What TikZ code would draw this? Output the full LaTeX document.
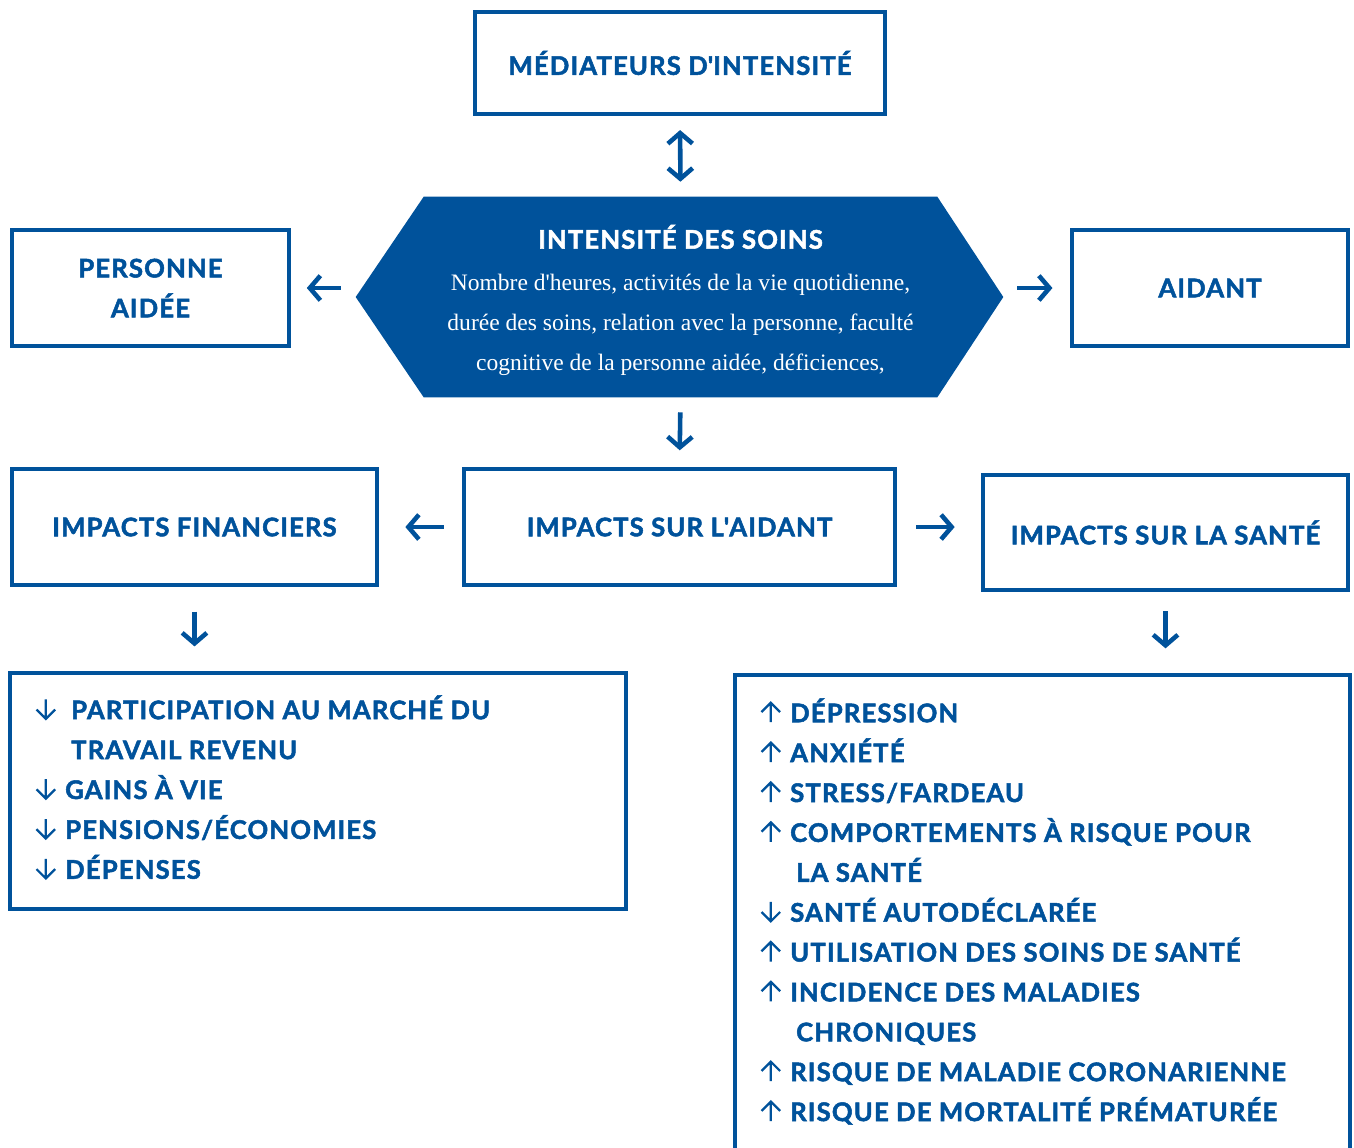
\documentclass[tikz,border=0pt]{standalone}
\usepackage{fontspec}
\setmainfont{Liberation Serif}
\newfontfamily\headfont{Lato}[LetterSpace=4.5,BoldFeatures={FakeBold=2}]
\usetikzlibrary{arrows.meta,positioning,calc,backgrounds}
\definecolor{cblue}{RGB}{0,82,155}

\newcommand\dnarrow{\makebox[17pt][l]{\tikz[baseline=0pt,x=1pt,y=1pt]
  \draw[cblue,line width=1.3pt,line join=miter] (6,11.3) -- (6,0.2) (0.7,5.5) -- (6,0.2) -- (11.3,5.5);}}
\newcommand\uparr{\makebox[17pt][l]{\tikz[baseline=0pt,x=1pt,y=1pt]
  \draw[cblue,line width=1.3pt,line join=miter] (6,0) -- (6,11.1) (0.7,5.8) -- (6,11.1) -- (11.3,5.8);}}
\newcommand\apos{\textquotesingle}

\begin{document}
\begin{tikzpicture}[x=0.02cm,y=-0.02cm,>={Straight Barb[length=6pt,width=14pt]},
                    box/.style={draw=cblue,line width=2.3pt,text=cblue,align=center,inner sep=0pt,
                      font=\headfont\bfseries\fontsize{14.6}{22.7}\selectfont},
                    flow/.style={draw=cblue,line width=2.6pt,->},
                    listtext/.style={text=cblue,align=left,inner sep=0pt,anchor=north west,
                      font=\headfont\bfseries\fontsize{14.6}{22.7}\selectfont}]

  \useasboundingbox (0,0) rectangle (1354,1147);
  \clip (0,0) rectangle (1354,1147);

  % top row
  \node[box,minimum width=8.2cm,minimum height=2.04cm]   (mediateurs) at (680,63)    {MÉDIATEURS D\apos INTENSITÉ};
  \node[text=white,align=center,inner sep=0pt,minimum width=10.26cm,minimum height=4cm,
        font=\fontsize{13.4}{22.7}\selectfont]            (intensite)  at (680.5,297) {};
  \node[text=white,align=center,inner sep=0pt,font=\fontsize{13.4}{22.7}\selectfont]
        (intensitetext) at (680.5,300)
        {{\headfont\bfseries\fontsize{14.6}{22.7}\selectfont INTENSITÉ DES SOINS}\\[1pt]
         Nombre d\apos heures, activités de la vie quotidienne,\\
         durée des soins, relation avec la personne, faculté\\
         cognitive de la personne aidée, déficiences,};
  \node[box,minimum width=5.54cm,minimum height=2.32cm]  (personne)   at (150.5,288)  {PERSONNE\\AIDÉE};
  \node[box,minimum width=5.52cm,minimum height=2.32cm]  (aidant)     at (1210,288)   {AIDANT};

  \coordinate (hexw) at ($(intensite.west)+(-68,0)$);
  \coordinate (hexe) at ($(intensite.east)+(66,0)$);
  \begin{scope}[on background layer]
    \fill[cblue] (intensite.north west) -- (intensite.north east) -- (hexe)
                 -- (intensite.south east) -- (intensite.south west) -- (hexw) -- cycle;
  \end{scope}

  % impacts
  \node[box,minimum width=8.62cm,minimum height=2.32cm]  (impaidant)  at (679.5,527)  {IMPACTS SUR L\apos AIDANT};
  \node[box,minimum width=7.3cm,minimum height=2.32cm]   (financiers) at (194.5,527)  {IMPACTS FINANCIERS};
  \node[box,minimum width=7.3cm,minimum height=2.3cm]    (sante)      at (1165.5,532.5) {IMPACTS SUR LA SANTÉ};

  % lists
  \node[box,minimum width=12.32cm,minimum height=4.72cm] (finlist)    at (318,791)    {};
  \node[minimum width=12.3cm,minimum height=9.8cm,inner sep=0pt] (santelist) at (1042.5,920) {};
  \draw[cblue,line width=2.3pt] (santelist.south west) -- (santelist.north west)
        -- (santelist.north east) -- (santelist.south east);

  \node[listtext] (finitems) at (35,695)
        {\dnarrow\hspace{3.4pt}PARTICIPATION AU MARCHÉ DU\\
         \hspace{20.4pt}TRAVAIL REVENU\\
         \dnarrow GAINS À VIE\\
         \dnarrow PENSIONS/ÉCONOMIES\\
         \dnarrow DÉPENSES};
  \node[listtext] (santeitems) at (760,698)
        {\uparr DÉPRESSION\\
         \uparr ANXIÉTÉ\\
         \uparr STRESS/FARDEAU\\
         \uparr COMPORTEMENTS À RISQUE POUR\\
         \hspace{3.4pt}\hspace{17pt}LA SANTÉ\\
         \dnarrow SANTÉ AUTODÉCLARÉE\\
         \uparr UTILISATION DES SOINS DE SANTÉ\\
         \uparr INCIDENCE DES MALADIES\\
         \hspace{3.4pt}\hspace{17pt}CHRONIQUES\\
         \uparr RISQUE DE MALADIE CORONARIENNE\\
         \uparr RISQUE DE MORTALITÉ PRÉMATURÉE};

  % connectors
  \draw[flow,<->,shorten <=8pt,shorten >=8.5pt] (mediateurs.south) -- (intensite.north);
  \draw[flow,shorten <=8.5pt,shorten >=9pt] (personne.east -| hexw) -- (personne.east);
  \draw[flow,shorten <=8pt,shorten >=10pt] (aidant.west -| hexe) -- (aidant.west);
  \draw[flow,shorten <=8.5pt,shorten >=9.5pt] (intensite.south) -- (impaidant.north);
  \draw[flow,shorten <=10.5pt,shorten >=15pt] (impaidant.west) -- (financiers.east);
  \draw[flow,shorten <=11pt,shorten >=15pt] (impaidant.east) -- (impaidant.east -| sante.west);
  \draw[flow,shorten <=14pt,shorten >=14pt] (financiers.south) -- (finlist.north -| financiers.south);
  \draw[flow,shorten <=11pt,shorten >=15pt] (sante.south) -- (sante.south |- santelist.north);
\end{tikzpicture}
\end{document}
